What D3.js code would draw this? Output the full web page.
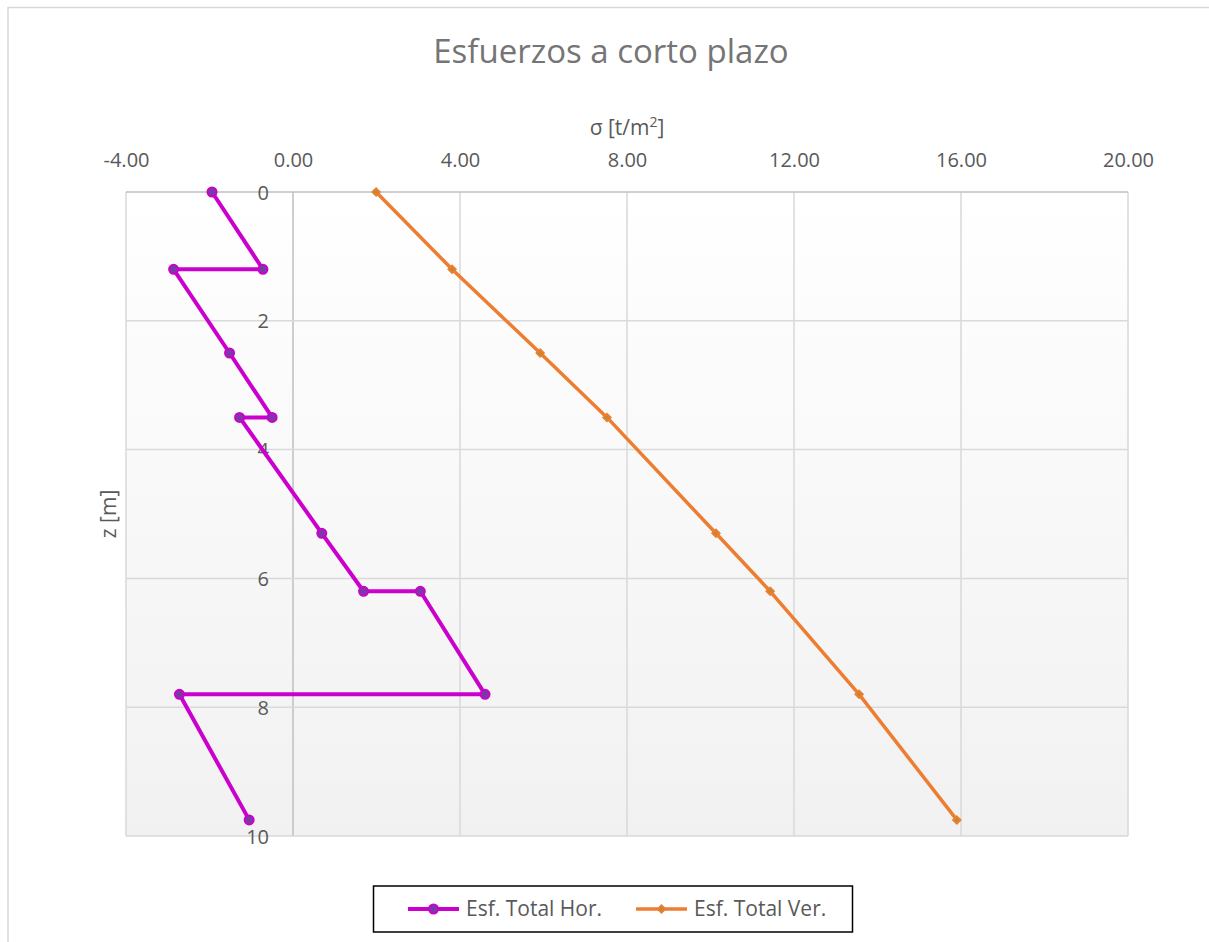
<!DOCTYPE html>
<html><head><meta charset="utf-8">
<script src="https://cdn.jsdelivr.net/npm/d3@7"></script>
<style>
html,body{margin:0;padding:0;background:#fff;}
svg{display:block;font-family:"Open Sans","Liberation Sans",sans-serif;}
</style></head>
<body>
<svg id="c" width="1209" height="942"></svg>
<script>
// Data
const depthHor = [0, 1.2, 1.2, 2.5, 3.5, 3.5, 5.3, 6.2, 6.2, 7.8, 7.8, 9.75];
const sigmaHor = [-1.94, -0.72, -2.86, -1.52, -0.50, -1.28, 0.69, 1.69, 3.05, 4.60, -2.72, -1.05];
const depthVer = [0, 1.2, 2.5, 3.5, 5.3, 6.2, 7.8, 9.75];
const sigmaVer = [1.99, 3.81, 5.92, 7.52, 10.13, 11.43, 13.56, 15.90];
const xTicks = [-4, 0, 4, 8, 12, 16, 20];
const yTicks = [0, 2, 4, 6, 8, 10];
const seriesNames = ["Esf. Total Hor.", "Esf. Total Ver."];
const title = "Esfuerzos a corto plazo";

const svg = d3.select("#c");
const W = 1209, H = 942;
const m = {left:126, right:1128, top:192, bottom:836};
const textCol = "#595959";

// chart border
svg.append("rect").attr("x",8).attr("y",7.5).attr("width",W).attr("height",H)
  .attr("fill","#fff").attr("stroke","#d9d9d9").attr("stroke-width",1.5);

const defs = svg.append("defs");
const grad = defs.append("linearGradient").attr("id","bg").attr("x1",0).attr("y1",0).attr("x2",0).attr("y2",1);
grad.append("stop").attr("offset","0%").attr("stop-color","#ffffff");
grad.append("stop").attr("offset","100%").attr("stop-color","#f1f1f1");

const x = d3.scaleLinear().domain([-4,20]).range([m.left,m.right]);
const y = d3.scaleLinear().domain([0,10]).range([m.top,m.bottom]);

svg.append("rect").attr("x",m.left).attr("y",m.top).attr("width",m.right-m.left).attr("height",m.bottom-m.top)
  .attr("fill","url(#bg)");

// gridlines
const g = svg.append("g");
g.selectAll(".vg").data(xTicks).enter().append("line")
  .attr("x1",d=>x(d)).attr("x2",d=>x(d)).attr("y1",m.top).attr("y2",m.bottom)
  .attr("stroke",d=>d===0?"#bfbfbf":"#d9d9d9").attr("stroke-width",1.5);
g.selectAll(".hg").data(yTicks).enter().append("line")
  .attr("x1",m.left).attr("x2",m.right).attr("y1",d=>y(d)).attr("y2",d=>y(d))
  .attr("stroke",d=>d===0?"#bfbfbf":"#d9d9d9").attr("stroke-width",1.5);

// axes (text)
const fmt2 = d => d.toFixed(2);
const xAxis = d3.axisTop(x).tickValues(xTicks).tickFormat(fmt2).tickSize(0).tickPadding(0);
const xa = svg.append("g").attr("transform",`translate(0,${m.top-25})`).call(xAxis);
xa.select(".domain").remove();
xa.selectAll("text").attr("fill",textCol).attr("font-size",20).attr("font-family","Open Sans, sans-serif").attr("dy","0");

const yAxis = d3.axisLeft(y).tickValues(yTicks).tickFormat(d=>String(d)).tickSize(0).tickPadding(0);
const ya = svg.append("g").attr("transform",`translate(${x(0)-24},0)`).call(yAxis);
ya.select(".domain").remove();
ya.selectAll("text").attr("fill",textCol).attr("font-size",20).attr("font-family","Open Sans, sans-serif").attr("dy","0.35em");

// axis titles
const xt = svg.append("text").attr("x",(m.left+m.right)/2).attr("y",135).attr("text-anchor","middle")
  .attr("fill",textCol).attr("font-size",21);
xt.append("tspan").text("σ [t/m");
xt.append("tspan").text("2").attr("font-size",14).attr("dy",-8);
xt.append("tspan").text("]").attr("dy",8);

svg.append("text").attr("transform",`translate(116,${(m.top+m.bottom)/2}) rotate(-90)`)
  .attr("text-anchor","middle").attr("fill",textCol).attr("font-size",21).text("z [m]");

// title
svg.append("text").attr("x",611).attr("y",63).attr("text-anchor","middle").attr("fill","#757575")
  .attr("font-size",33).text(title);

// series
const hor = sigmaHor.map((s,i)=>({s, z:depthHor[i]}));
const ver = sigmaVer.map((s,i)=>({s, z:depthVer[i]}));
const line = d3.line().x(d=>x(d.s)).y(d=>y(d.z));

svg.append("path").datum(ver).attr("d",line).attr("fill","none").attr("stroke","#ed7d31").attr("stroke-width",3.5).attr("stroke-linejoin","round");
const sq = d3.symbol().type(d3.symbolSquare).size(26);
svg.selectAll(".vm").data(ver).enter().append("path").attr("d",sq)
  .attr("transform",d=>`translate(${x(d.s)},${y(d.z)}) rotate(45)`).attr("fill","#b08f35").attr("stroke","#ed7d31").attr("stroke-width",2);

svg.append("path").datum(hor).attr("d",line).attr("fill","none").attr("stroke","#cc00cc").attr("stroke-width",4).attr("stroke-linejoin","round");
svg.selectAll(".hm").data(hor).enter().append("circle")
  .attr("cx",d=>x(d.s)).attr("cy",d=>y(d.z)).attr("r",4.5)
  .attr("fill","#7a3aa6").attr("stroke","#cc00cc").attr("stroke-width",2);

// legend
const lg = svg.append("g");
lg.append("rect").attr("x",373.5).attr("y",886).attr("width",479).attr("height",46)
  .attr("fill","#fff").attr("stroke","#000").attr("stroke-width",1.5);
const legItems = [
  {name:seriesNames[0], col:"#cc00cc", x0:408, type:"circle"},
  {name:seriesNames[1], col:"#ed7d31", x0:636, type:"diamond"}
];
legItems.forEach(it=>{
  lg.append("line").attr("x1",it.x0).attr("x2",it.x0+51).attr("y1",909).attr("y2",909)
    .attr("stroke",it.col).attr("stroke-width",it.type==="circle"?4:3.5);
  if(it.type==="circle"){
    lg.append("circle").attr("cx",it.x0+25.5).attr("cy",909).attr("r",4.5)
      .attr("fill","#7a3aa6").attr("stroke","#cc00cc").attr("stroke-width",2);
  } else {
    lg.append("path").attr("d",sq).attr("transform",`translate(${it.x0+25.5},909) rotate(45)`)
      .attr("fill","#b08f35").attr("stroke","#ed7d31").attr("stroke-width",2);
  }
  lg.append("text").attr("x",it.x0+58).attr("y",909).attr("dy","0.35em").attr("fill",textCol)
    .attr("font-size",21).text(it.name);
});
</script>
</body></html>
